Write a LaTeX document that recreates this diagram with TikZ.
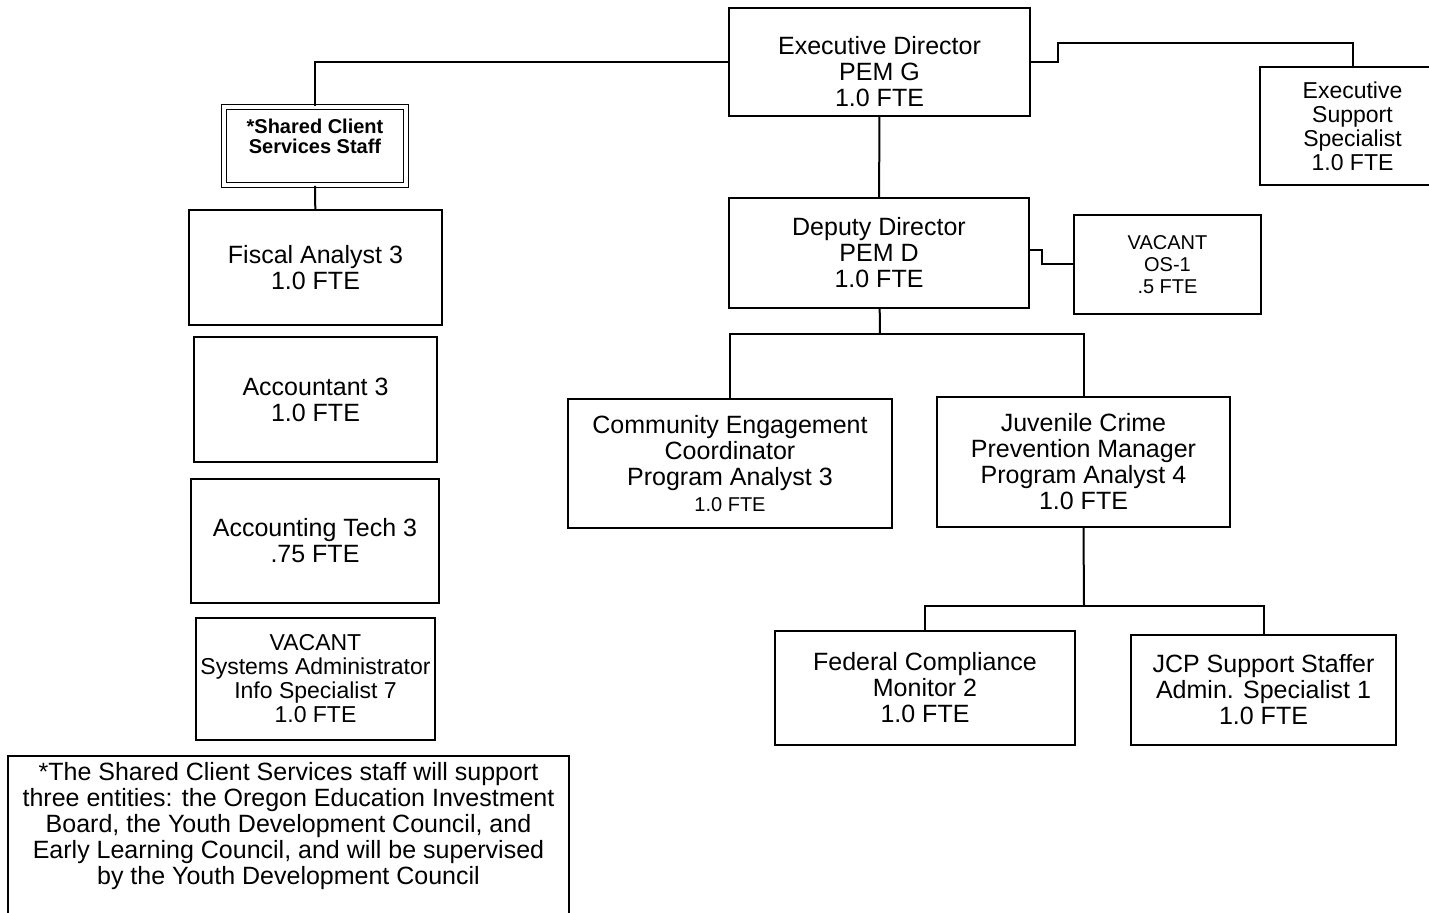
\documentclass[tikz,border=0pt]{standalone}
\usepackage{fontspec}
\setmainfont{Liberation Sans}
\usepackage{tikz}

\tikzset{
  box/.style={draw, line width=1.2pt, align=center, inner sep=1pt},
  big/.style={font=\fontsize{12.5}{13}\selectfont},
  mid/.style={font=\fontsize{11.5}{12}\selectfont},
  small/.style={font=\fontsize{10}{11}\selectfont},
  link/.style={line width=1pt}
}

\begin{document}
\begin{tikzpicture}[x=0.5pt, y=-0.5pt]

\useasboundingbox (0,0) rectangle (1429,913);

\node[box, big, minimum width=150.5pt, minimum height=54pt, inner sep=0pt] (exec) at (879.5,62) {\mbox{}\\[6pt]Executive Director\\PEM G\\1.0 FTE};
\node[box, mid, minimum width=92.5pt, minimum height=59pt] (support) at (1352.5,126) {Executive\\Support\\Specialist\\1.0 FTE};
\node[box, double, double distance=1.6pt, line width=0.9pt, minimum width=91pt, minimum height=39pt,
      font=\fontsize{10}{10}\selectfont\bfseries] (shared) at (315,146) {*Shared Client\\Services Staff\\\mbox{}};

\node[box, big, minimum width=126.5pt, minimum height=57.5pt] (fiscal) at (315.5,267.5) {Fiscal Analyst 3\\1.0 FTE};
\node[box, big, minimum width=121.5pt, minimum height=62.5pt] (acct) at (315.5,399.5) {Accountant 3\\1.0 FTE};
\node[box, big, minimum width=124pt, minimum height=62pt] (tech) at (315,541) {Accounting Tech 3\\.75 FTE};
\node[box, mid, minimum width=119.5pt, minimum height=61pt, inner sep=0pt] (sysadm) at (315.5,679) {VACANT\\Systems Administrator\\Info Specialist 7\\1.0 FTE};

\node[box, big, minimum width=280.5pt, minimum height=85pt, anchor=north, inner sep=3pt] (note) at (288.5,755)
  {*The Shared Client Services staff will support\\three entities: the Oregon Education Investment\\Board, the Youth Development Council, and\\Early Learning Council, and will be supervised\\by the Youth Development Council\\\mbox{}\\\mbox{}};

\node[box, big, minimum width=150pt, minimum height=55pt] (deputy) at (879,253) {Deputy Director\\PEM D\\1.0 FTE};
\node[box, small, minimum width=93.5pt, minimum height=49.5pt] (vacos) at (1167.5,264.5) {VACANT\\OS-1\\.5 FTE};

\node[box, big, minimum width=162pt, minimum height=64.5pt] (ce) at (730,463.5) {Community Engagement\\Coordinator\\Program Analyst 3\\{\fontsize{10}{13}\selectfont 1.0 FTE}};
\node[box, big, minimum width=146.5pt, minimum height=65pt] (jc) at (1083.5,462) {Juvenile Crime\\Prevention Manager\\Program Analyst 4\\1.0 FTE};

\node[box, big, minimum width=150pt, minimum height=57pt] (fcm) at (925,688) {Federal Compliance\\Monitor 2\\1.0 FTE};
\node[box, big, minimum width=132.5pt, minimum height=55pt] (jcp) at (1263.5,690) {JCP Support Staffer\\Admin. Specialist 1\\1.0 FTE};

\coordinate (jog1) at (1058,62);
\coordinate (jog2) at (1058,43);
\coordinate (jog3) at (1042,250);
\coordinate (bus1) at (880,334);
\coordinate (bus2) at (1084,606);

\draw[link] (exec) -| (shared);
\draw[link] (exec.east) -- (jog1) -- (jog2) -| (support.north);
\draw[link] (shared) -- (fiscal);
\draw[link] (exec) -- (deputy);
\draw[link] (deputy.east |- jog3) -- (jog3) |- (vacos.west);
\draw[link] (deputy) -- (bus1);
\draw[link] (ce.north) |- (bus1) -| (jc.north);
\draw[link] (jc.south) -- (bus2);
\draw[link] (fcm.north) |- (bus2) -| (jcp.north);

\end{tikzpicture}
\end{document}
